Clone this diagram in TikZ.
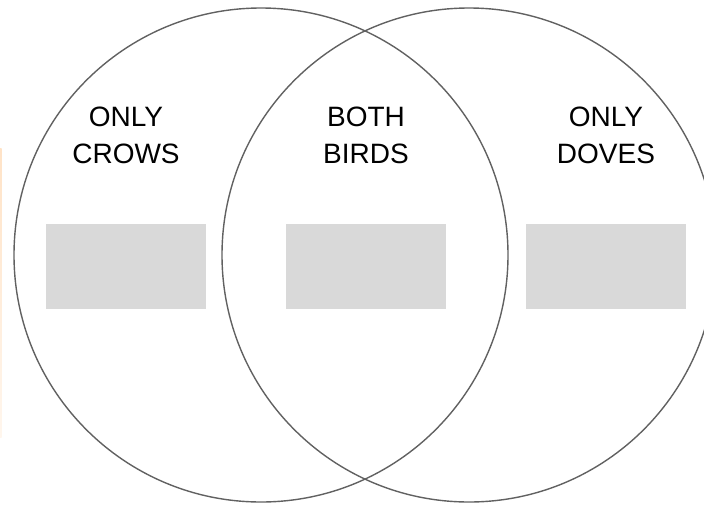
\documentclass[tikz,border=0pt]{standalone}
\usepackage{fontspec}
\setmainfont{Liberation Sans}
\begin{document}
\begin{tikzpicture}[x=1pt,y=-1pt,
  setcircle/.style={circle,draw=black!62,line width=1.4pt,minimum size=494pt,inner sep=0pt},
  slot/.style={fill=black!15,minimum width=160pt,minimum height=85pt,inner sep=0pt},
  heading/.style={align=center,font=\fontsize{28pt}{37pt}\selectfont,text=black,inner sep=0pt}]
  \useasboundingbox (0,0) rectangle (704,504);
  \clip (0,0) rectangle (704,504);
  % faint accent strip on the left edge
  \shade[top color=orange!22!white, bottom color=orange!7!white] (0,148) rectangle (1.6,437);
  % the two sets
  \node[setcircle] (crows) at (261,255) {};
  \node[setcircle] (doves) at (469,255) {};
  % answer slots
  \node[slot] (slotA) at (126,266.5) {};
  \node[slot] (slotB) at (366,266.5) {};
  \node[slot] (slotC) at (606,266.5) {};
  % region headings
  \node[heading] (onlyA) at (126,135.5) {ONLY\\CROWS};
  \node[heading] (both)  at (366,135.5) {BOTH\\BIRDS};
  \node[heading] (onlyB) at (606,135.5) {ONLY\\DOVES};
\end{tikzpicture}
\end{document}
